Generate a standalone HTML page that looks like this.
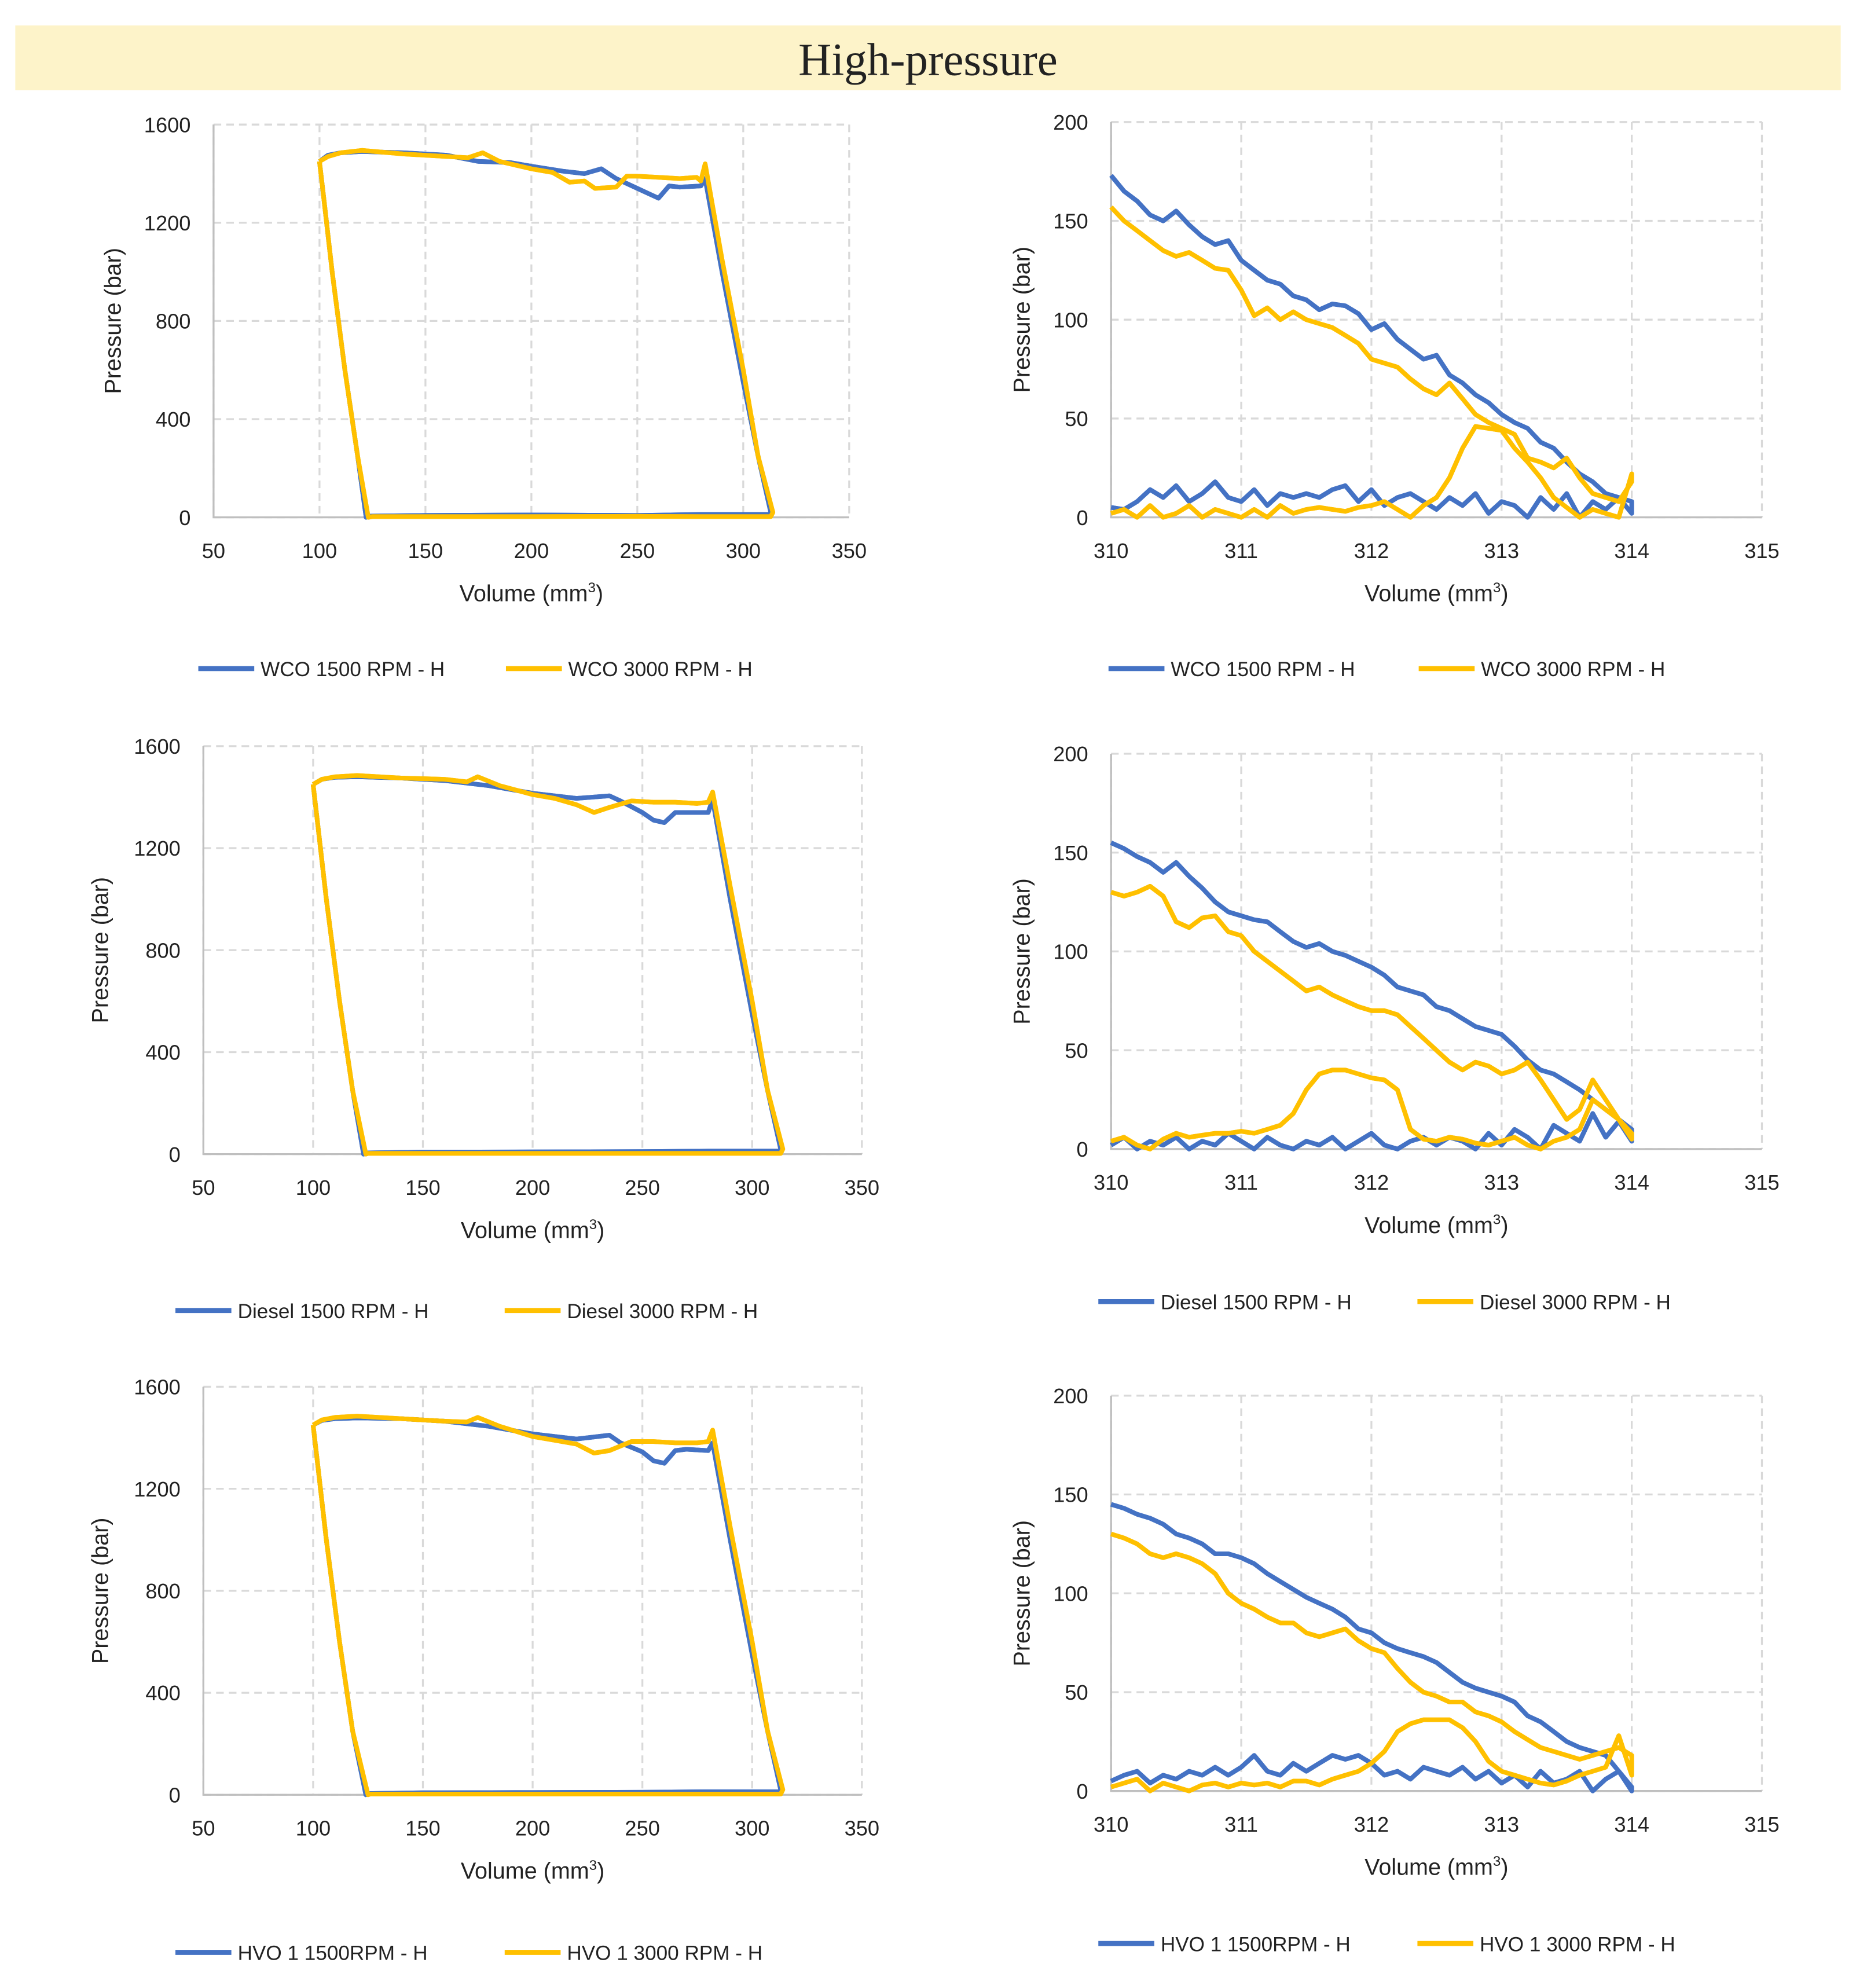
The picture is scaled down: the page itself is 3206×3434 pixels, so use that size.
<!DOCTYPE html>
<html><head><meta charset="utf-8"><style>
html,body{margin:0;padding:0;background:#fff;}
svg{display:block;}
text{font-family:"Liberation Sans",sans-serif;fill:#222;}
</style></head><body>
<svg id="root" width="3206" height="3434" viewBox="0 0 1460 1564" preserveAspectRatio="none" xmlns="http://www.w3.org/2000/svg">
<rect x="12" y="20" width="1436" height="51" fill="#fdf3c9"/>
<text x="730" y="59" text-anchor="middle" style="font-family:'Liberation Serif',serif;font-size:36px">High-pressure</text>
</svg>
<script>
// ---- Left P-V loop data (volume mm3, pressure bar) ----
const wco1500Vol=[100,104,110,120,140,160,175,190,200,215,225,233,240,250,255,260,265,270,280,282,290,300,307,313,313,280,250,200,150,123,122,118,112,106,102,100];
const wco1500Pres=[1450,1475,1485,1490,1485,1475,1450,1445,1430,1410,1400,1420,1380,1340,1320,1300,1350,1345,1350,1380,1000,550,250,20,12,12,8,10,8,5,0,250,600,1000,1300,1450];
const wco3000Vol=[100,104,110,120,140,160,170,177,185,200,210,218,225,230,240,245,250,260,270,278,280,282,290,300,307,314,313,280,250,200,150,125,123,118,112,106,102,100];
const wco3000Pres=[1450,1470,1485,1495,1480,1470,1465,1485,1450,1420,1405,1365,1370,1340,1345,1390,1390,1385,1380,1385,1370,1440,1050,600,250,20,3,3,4,3,3,3,0,250,600,1000,1300,1450];
const dsl1500Vol=[100,104,110,120,140,160,180,200,220,235,240,250,255,260,265,270,280,282,290,300,307,313,313,280,250,200,150,124,123,118,112,106,102,100];
const dsl1500Pres=[1450,1470,1478,1480,1475,1465,1445,1415,1395,1405,1385,1340,1310,1300,1340,1340,1340,1390,1000,550,250,20,12,12,10,9,8,5,0,250,600,1000,1300,1450];
const dsl3000Vol=[100,104,110,120,140,160,170,175,185,200,210,220,228,235,245,255,265,275,280,282,290,300,307,314,313,280,250,200,150,125,124,118,112,106,102,100];
const dsl3000Pres=[1450,1470,1480,1485,1475,1470,1460,1480,1445,1410,1395,1370,1340,1360,1385,1380,1380,1375,1380,1420,1050,600,250,20,3,3,3,3,3,3,0,250,600,1000,1300,1450];
const hvo1500Vol=[100,104,110,120,140,160,180,200,220,235,240,250,255,260,265,270,280,282,290,300,307,313,313,280,250,200,150,125,124,118,112,106,102,100];
const hvo1500Pres=[1450,1468,1475,1478,1475,1465,1445,1415,1395,1410,1380,1345,1310,1300,1350,1355,1350,1380,1000,550,250,20,12,12,10,9,8,5,0,250,600,1000,1300,1450];
const hvo3000Vol=[100,104,110,120,140,160,170,175,185,200,210,220,228,235,245,255,265,275,280,282,290,300,307,314,313,280,250,200,150,126,125,118,112,106,102,100];
const hvo3000Pres=[1450,1470,1480,1485,1475,1465,1462,1480,1445,1405,1390,1375,1340,1350,1385,1385,1380,1380,1385,1430,1050,600,250,20,3,3,3,3,3,3,0,250,600,1000,1300,1450];
const leftXTicks=[50,100,150,200,250,300,350];
const leftYTicks=[0,400,800,1200,1600];
// ---- Right zoom data: pressure at volumes 310..314 step 0.1 ----
const zoomVol=[310,310.1,310.2,310.3,310.4,310.5,310.6,310.7,310.8,310.9,311,311.1,311.2,311.3,311.4,311.5,311.6,311.7,311.8,311.9,312,312.1,312.2,312.3,312.4,312.5,312.6,312.7,312.8,312.9,313,313.1,313.2,313.3,313.4,313.5,313.6,313.7,313.8,313.9,314];
const wco1500Up=[173,165,160,153,150,155,148,142,138,140,130,125,120,118,112,110,105,108,107,103,95,98,90,85,80,82,72,68,62,58,52,48,45,38,35,28,22,18,12,10,8];
const wco1500Low=[5,4,8,14,10,16,8,12,18,10,8,14,6,12,10,12,10,14,16,8,14,6,10,12,8,4,10,6,12,2,8,6,0,10,4,12,0,8,4,10,2];
const wco3000Up=[157,150,145,140,135,132,134,130,126,125,115,102,106,100,104,100,98,96,92,88,80,78,76,70,65,62,68,60,52,48,45,42,30,28,25,30,20,12,10,8,18];
const wco3000Low=[2,4,0,6,0,2,6,0,4,2,0,4,0,6,2,4,5,4,3,5,6,8,4,0,6,10,20,35,46,45,44,35,28,20,10,5,0,4,2,0,22];
const dsl1500Up=[155,152,148,145,140,145,138,132,125,120,118,116,115,110,105,102,104,100,98,95,92,88,82,80,78,72,70,66,62,60,58,52,45,40,38,34,30,25,20,15,10];
const dsl1500Low=[2,6,0,4,2,6,0,4,2,8,4,0,6,2,0,4,2,6,0,4,8,2,0,4,6,2,6,4,0,8,2,10,6,0,12,8,4,18,6,14,4];
const dsl3000Up=[130,128,130,133,128,115,112,117,118,110,108,100,95,90,85,80,82,78,75,72,70,70,68,62,56,50,44,40,44,42,38,40,44,35,25,15,20,35,25,15,8];
const dsl3000Low=[4,6,2,0,5,8,6,7,8,8,9,8,10,12,18,30,38,40,40,38,36,35,30,10,5,4,6,5,3,2,4,6,2,0,4,6,10,25,20,15,5];
const hvo1500Up=[145,143,140,138,135,130,128,125,120,120,118,115,110,106,102,98,95,92,88,82,80,75,72,70,68,65,60,55,52,50,48,45,38,35,30,25,22,20,18,10,2];
const hvo1500Low=[5,8,10,4,8,6,10,8,12,8,12,18,10,8,14,10,14,18,16,18,14,8,10,6,12,10,8,12,6,10,4,8,2,10,4,6,10,0,6,10,0];
const hvo3000Up=[130,128,125,120,118,120,118,115,110,100,95,92,88,85,85,80,78,80,82,76,72,70,62,55,50,48,45,45,40,38,35,30,26,22,20,18,16,18,20,22,18];
const hvo3000Low=[2,4,6,0,4,2,0,3,4,2,4,3,4,2,5,5,3,6,8,10,14,20,30,34,36,36,36,32,25,15,10,8,6,4,3,5,8,10,12,28,8];
const rightXTicks=[310,311,312,313,314,315];
const rightYTicks=[0,50,100,150,200];

const NS="http://www.w3.org/2000/svg";
const root=document.getElementById('root');
const BLUE="#4472c4",YEL="#ffc000";
function mk(tag,attrs,parent){const e=document.createElementNS(NS,tag);for(const k in attrs)e.setAttribute(k,attrs[k]);(parent||root).appendChild(e);return e;}

function chart(id,box,xd,yd,xt,yt,series,leg){
  const g=mk('g',{});
  
  
  const sx=v=>box.x0+(v-xd[0])/(xd[1]-xd[0])*(box.x1-box.x0);
  const sy=v=>box.y1-(v-yd[0])/(yd[1]-yd[0])*(box.y1-box.y0);
  xt.forEach(t=>{
    const l=mk('line',{x1:sx(t),x2:sx(t),y1:box.y0,y2:box.y1,stroke:'#d9d9d9','stroke-width':1.5,'stroke-dasharray':'6,4'},g);
    
    
    const tx=mk('text',{x:sx(t),y:box.y1+32,'text-anchor':'middle','font-size':16.5},g);
    tx.textContent=t;
    
    
  });
  yt.forEach(t=>{
    const l=mk('line',{x1:box.x0,x2:box.x1,y1:sy(t),y2:sy(t),stroke:'#d9d9d9','stroke-width':1.5,'stroke-dasharray':'6,4'},g);
    
    
    const tx=mk('text',{x:box.x0-18,y:sy(t)+6,'text-anchor':'end','font-size':16.5},g);
    tx.textContent=t;
    
    
  });
  const ax=mk('path',{d:`M${box.x0},${box.y0}V${box.y1}H${box.x1}`,fill:'none',stroke:'#bfbfbf','stroke-width':1.5},g);
  
  
  series.forEach(s=>{
    const pts=s.x.map((v,i)=>sx(v).toFixed(1)+','+sy(s.y[i]).toFixed(1)).join(' ');
    const p=mk('polyline',{points:pts,fill:'none',stroke:s.c,'stroke-width':3.6,'stroke-linejoin':'round'},g);
    
    
  });
  const xtl=mk('text',{x:(box.x0+box.x1)/2,y:box.y1+66,'text-anchor':'middle','font-size':18},g);
  xtl.innerHTML='Volume (mm<tspan dy="-7" font-size="11">3</tspan><tspan dy="7">)</tspan>';
  
  
  const cy=(box.y0+box.y1)/2, cx=box.ytx;
  const ytl=mk('text',{x:cx,y:cy,'text-anchor':'middle','font-size':18,transform:`rotate(-90 ${cx} ${cy})`},g);
  ytl.textContent='Pressure (bar)';
  
  
  leg.items.forEach((it,i)=>{
    const l=mk('line',{x1:it.lx,x2:it.lx+44,y1:leg.y,y2:leg.y,stroke:series[i*2].c,'stroke-width':4},g);
    
    
    const t=mk('text',{x:it.lx+49,y:leg.y+6,'font-size':16},g);
    t.textContent=it.t;
    
    
  });
}
function zoomSeries(up,low,c,n){
  const xs=zoomVol.concat(zoomVol.slice().reverse());
  const ys=low.concat(up.slice().reverse());
  return {x:xs,y:ys,c:c,n:n};
}
function L(a,b){return [a,a,b,b];}

chart('chart-wco-pv',{x0:168,x1:668,y0:98,y1:407,ytx:95},[50,350],[0,1600],leftXTicks,leftYTicks,
 L({x:wco1500Vol,y:wco1500Pres,c:BLUE,n:'wco-1500-line'},{x:wco3000Vol,y:wco3000Pres,c:YEL,n:'wco-3000-line'}),
 {y:526,items:[{lx:156,t:'WCO 1500 RPM - H'},{lx:398,t:'WCO 3000 RPM - H'}]});
chart('chart-wco-zoom',{x0:874,x1:1386,y0:96,y1:407,ytx:810},[310,315],[0,200],rightXTicks,rightYTicks,
 L(zoomSeries(wco1500Up,wco1500Low,BLUE,'wco-1500-zoom-line'),zoomSeries(wco3000Up,wco3000Low,YEL,'wco-3000-zoom-line')),
 {y:526,items:[{lx:872,t:'WCO 1500 RPM - H'},{lx:1116,t:'WCO 3000 RPM - H'}]});
chart('chart-diesel-pv',{x0:160,x1:678,y0:587,y1:908,ytx:85},[50,350],[0,1600],leftXTicks,leftYTicks,
 L({x:dsl1500Vol,y:dsl1500Pres,c:BLUE,n:'diesel-1500-line'},{x:dsl3000Vol,y:dsl3000Pres,c:YEL,n:'diesel-3000-line'}),
 {y:1031,items:[{lx:138,t:'Diesel 1500 RPM - H'},{lx:397,t:'Diesel 3000 RPM - H'}]});
chart('chart-diesel-zoom',{x0:874,x1:1386,y0:593,y1:904,ytx:810},[310,315],[0,200],rightXTicks,rightYTicks,
 L(zoomSeries(dsl1500Up,dsl1500Low,BLUE,'diesel-1500-zoom-line'),zoomSeries(dsl3000Up,dsl3000Low,YEL,'diesel-3000-zoom-line')),
 {y:1024,items:[{lx:864,t:'Diesel 1500 RPM - H'},{lx:1115,t:'Diesel 3000 RPM - H'}]});
chart('chart-hvo-pv',{x0:160,x1:678,y0:1091,y1:1412,ytx:85},[50,350],[0,1600],leftXTicks,leftYTicks,
 L({x:hvo1500Vol,y:hvo1500Pres,c:BLUE,n:'hvo-1500-line'},{x:hvo3000Vol,y:hvo3000Pres,c:YEL,n:'hvo-3000-line'}),
 {y:1536,items:[{lx:138,t:'HVO 1 1500RPM - H'},{lx:397,t:'HVO 1 3000 RPM - H'}]});
chart('chart-hvo-zoom',{x0:874,x1:1386,y0:1098,y1:1409,ytx:810},[310,315],[0,200],rightXTicks,rightYTicks,
 L(zoomSeries(hvo1500Up,hvo1500Low,BLUE,'hvo-1500-zoom-line'),zoomSeries(hvo3000Up,hvo3000Low,YEL,'hvo-3000-zoom-line')),
 {y:1529,items:[{lx:864,t:'HVO 1 1500RPM - H'},{lx:1115,t:'HVO 1 3000 RPM - H'}]});
</script>
</body></html>
